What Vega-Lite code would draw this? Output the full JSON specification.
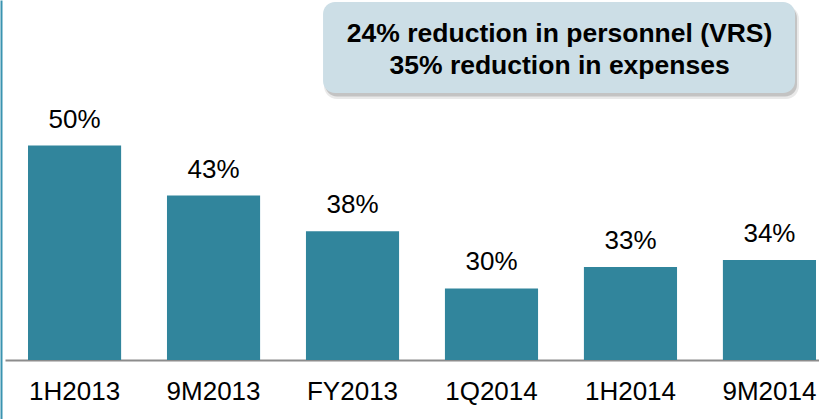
{
  "$schema": "https://vega.github.io/schema/vega-lite/v6.json",
  "width": 814,
  "height": 419,
  "autosize": {"type": "none"},
  "padding": {"left": 5, "top": 0, "right": 0, "bottom": 0},
  "background": "white",
  "config": {"font": "Liberation Sans", "view": {"stroke": null}},
  "datasets": {
    "bars": [
      {"period": "1H2013", "value": 50, "label": "50%"},
      {"period": "9M2013", "value": 43, "label": "43%"},
      {"period": "FY2013", "value": 38, "label": "38%"},
      {"period": "1Q2014", "value": 30, "label": "30%"},
      {"period": "1H2014", "value": 33, "label": "33%"},
      {"period": "9M2014", "value": 34, "label": "34%"}
    ],
    "note": [
      {"lines": ["24% reduction in personnel (VRS)", "35% reduction in expenses"]}
    ]
  },
  "layer": [
    {
      "data": {"name": "bars"},
      "encoding": {
        "x": {
          "field": "period",
          "type": "nominal",
          "sort": null,
          "scale": {"paddingInner": 0.33, "paddingOuter": 0.0935, "align": 0.885},
          "axis": {
            "title": null,
            "labelAngle": 0,
            "labelFontSize": 26,
            "labelColor": "#000000",
            "labelFont": "Liberation Sans",
            "labelBaseline": "alphabetic",
            "labelPadding": 39,
            "ticks": false,
            "domainColor": "#8C8C8C",
            "domainWidth": 2,
            "offset": -59,
            "grid": false
          }
        },
        "y": {
          "field": "value",
          "type": "quantitative",
          "scale": {"domain": [11.748, 70.35], "nice": false, "zero": false},
          "axis": {
            "title": null,
            "labels": false,
            "ticks": false,
            "grid": false,
            "domainColor": "#3A93B0",
            "domainWidth": 2,
            "offset": 4
          }
        }
      },
      "layer": [
        {
          "mark": {"type": "bar", "color": "#31859C"},
          "encoding": {"y2": {"datum": 20}}
        },
        {
          "mark": {"type": "text", "dy": -18, "baseline": "alphabetic", "align": "center", "fontSize": 26, "color": "#000000"},
          "encoding": {"text": {"field": "label", "type": "nominal"}}
        }
      ]
    },
    {
      "data": {"name": "note"},
      "layer": [
        {
          "mark": {"type": "rect", "cornerRadius": 13, "color": "#8F8F8F", "opacity": 0.2},
          "encoding": {
            "x": {"datum": 1.795, "type": "quantitative", "scale": {"domain": [-0.5004, 5.3565], "nice": false, "zero": false}, "axis": null},
            "x2": {"datum": 5.212},
            "y": {"datum": 69.51, "type": "quantitative", "scale": {"domain": [11.748, 70.35], "nice": false, "zero": false}, "axis": null},
            "y2": {"datum": 56.5}
          }
        },
        {
          "mark": {"type": "rect", "cornerRadius": 12, "color": "#7F7F7F", "opacity": 0.35},
          "encoding": {
            "x": {"datum": 1.803, "type": "quantitative", "scale": {"domain": [-0.5004, 5.3565], "nice": false, "zero": false}, "axis": null},
            "x2": {"datum": 5.198},
            "y": {"datum": 69.51, "type": "quantitative", "scale": {"domain": [11.748, 70.35], "nice": false, "zero": false}, "axis": null},
            "y2": {"datum": 56.85}
          }
        },
        {
          "mark": {"type": "rect", "cornerRadius": 12, "color": "#CCDEE6"},
          "encoding": {
            "x": {"datum": 1.788, "type": "quantitative", "scale": {"domain": [-0.5004, 5.3565], "nice": false, "zero": false}, "axis": null},
            "x2": {"datum": 5.184},
            "y": {"datum": 70.07, "type": "quantitative", "scale": {"domain": [11.748, 70.35], "nice": false, "zero": false}, "axis": null},
            "y2": {"datum": 57.34}
          }
        },
        {
          "mark": {"type": "text", "align": "center", "baseline": "alphabetic", "fontSize": 26.5, "fontWeight": "bold", "lineHeight": 32, "color": "#000000"},
          "encoding": {
            "x": {"datum": 3.49, "type": "quantitative", "scale": {"domain": [-0.5004, 5.3565], "nice": false, "zero": false}, "axis": null},
            "y": {"datum": 64.52, "type": "quantitative", "scale": {"domain": [11.748, 70.35], "nice": false, "zero": false}, "axis": null},
            "text": {"field": "lines", "type": "nominal"}
          }
        }
      ]
    }
  ],
  "resolve": {"scale": {"x": "independent"}, "axis": {"x": "independent", "y": "independent"}}
}
